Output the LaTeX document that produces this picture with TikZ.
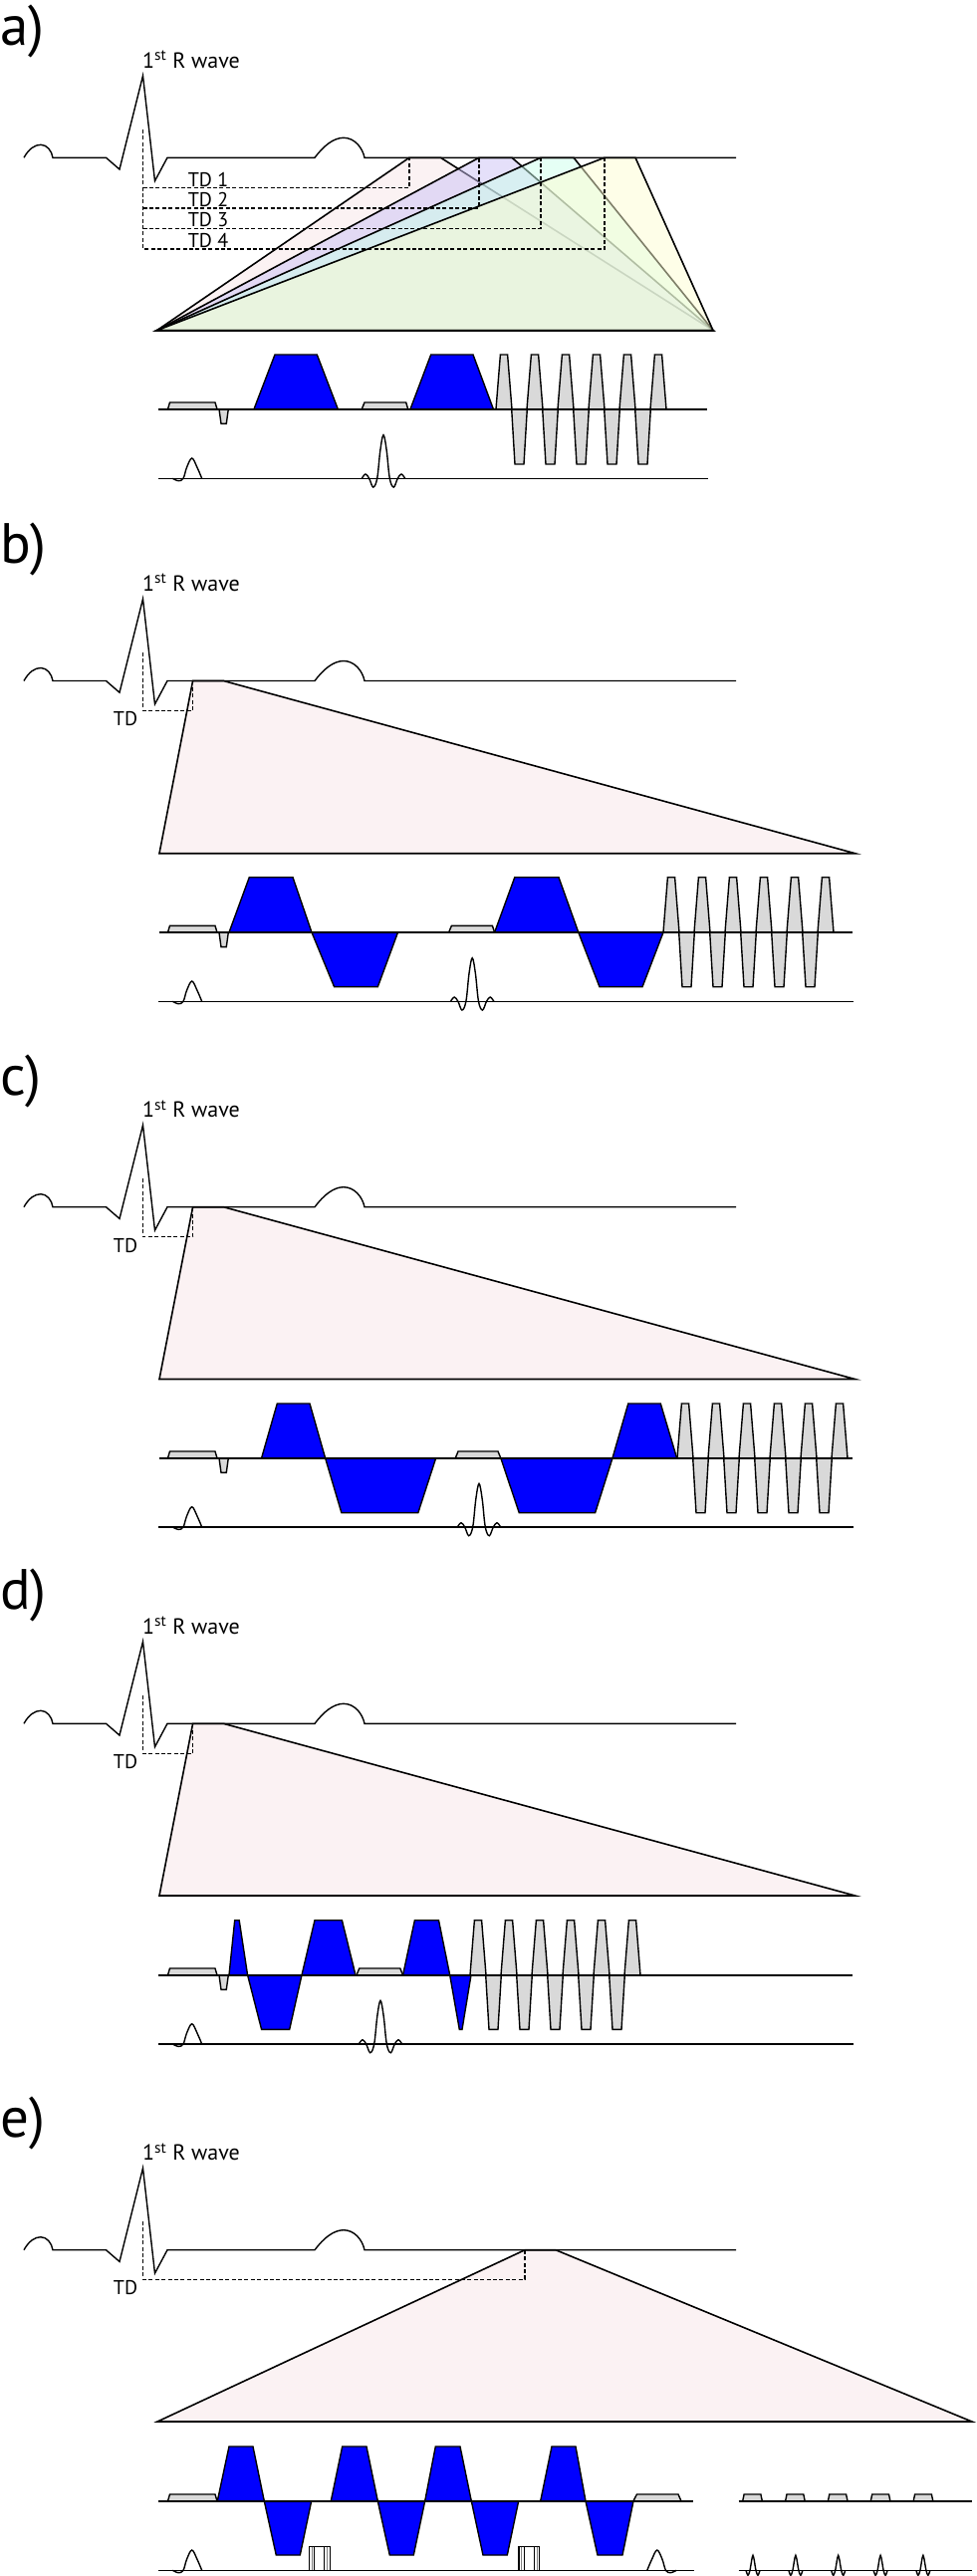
\documentclass[tikz,border=0pt]{standalone}
\usepackage{fontspec}
\setmainfont{PT Sans}
\tikzset{
  ecgline/.style={draw=black,line width=1.4pt,line join=miter},
  dashline/.style={draw=black,line width=1.4pt,dash pattern=on 4pt off 2.4pt},
  axisline/.style={draw=black,line width=1.6pt},
  bluelobe/.style={draw=black,line width=1.4pt,fill=blue,line join=miter},
  graylobe/.style={draw=black,line width=1.4pt,fill=gray1,line join=miter},
  pyramid/.style={draw=black,line width=1.6pt,fill=pink1,line join=miter},
  panellabel/.style={anchor=west,inner sep=0pt,font=\fontsize{57}{57}\selectfont},
  wavelabel/.style={anchor=west,inner sep=0pt,font=\fontsize{22}{22}\selectfont},
  tdlabel/.style={anchor=center,inner sep=0pt,font=\fontsize{20}{20}\selectfont},
}
\definecolor{gray1}{HTML}{D9D9D9}
\definecolor{pink1}{HTML}{FBF2F3}
\definecolor{tdtwo}{RGB}{203,193,245}
\definecolor{tdthree}{RGB}{203,255,235}
\definecolor{tdfour}{RGB}{253,253,209}
% ECG trace, 1st R wave label, with baseline y = #1
\newcommand{\ecgtrace}[2]{%
  \begin{scope}[shift={(0,#1)}]
    \node[wavelabel] (rw#2) at (143,-98.5) {1\textsuperscript{st} R wave};
    \draw[ecgline] (24,0) .. controls (29,-9) and (35,-13) .. (41,-13)
      .. controls (47,-13) and (52,-7) .. (53,0) -- (106.5,0) -- (120,11.7)
      -- (143.5,-82.3) -- (155.5,23.4) -- (168,0) -- (316,0)
      .. controls (325,-12) and (335,-20) .. (345,-20)
      .. controls (356,-20) and (364,-10) .. (366,0) -- (739,0);
  \end{scope}}
% first excitation pulse on signal axis
\newcommand{\firstpulse}[1]{%
  \begin{scope}[shift={(0,#1)}]
    \draw[ecgline] plot[smooth,tension=.6] coordinates {(173.3,0) (179.3,2.4) (184,0) (187.5,-11) (192.7,-20.3) (198,-11) (202.7,0)};
  \end{scope}}
% sinc pulse: centre, axis y
\newcommand{\sincpulse}[2]{%
  \begin{scope}[shift={(#1,#2)}]
    \draw[ecgline] plot[smooth,tension=.6] coordinates {(-21.7,0) (-18,-4.3) (-14.3,0) (-10.3,8.7) (-6.3,0) (-3.2,-28) (0,-43.6) (3.2,-28) (6.3,0) (10.3,8.7) (14.3,0) (18,-4.3) (21.7,0)};
  \end{scope}}
% blue lobe: axis y, level y, four x
\newcommand{\blobe}[6]{\draw[bluelobe] (#3,#1) -- (#4,#2) -- (#5,#2) -- (#6,#1) -- cycle;}
% small gray slab: axis y, four x
\newcommand{\slab}[5]{\draw[graylobe] (#2,#1) -- (#3,#1-6.7) -- (#4,#1-6.7) -- (#5,#1) -- cycle;}
% slice select and rephasing at start
\newcommand{\startslab}[1]{%
  \slab{#1}{168.5}{170.5}{216}{218}
  \draw[graylobe] (220,#1) -- (222,#1+14.6) -- (227.3,#1+14.6) -- (229.3,#1) -- cycle;}
% readout: axis, top, bottom, first centre
\newcommand{\readoutseq}[4]{%
  \foreach \ii in {0,...,5} {
    \pgfmathsetmacro\cxp{#4+\ii*31}
    \draw[graylobe] (\cxp-8,#1) -- (\cxp-3.6,#2) -- (\cxp+3.6,#2) -- (\cxp+8,#1) -- cycle;
  }
  \foreach \ii in {0,...,4} {
    \pgfmathsetmacro\cxn{#4+15.5+\ii*31}
    \draw[graylobe] (\cxn-7.8,#1) -- (\cxn-4.5,#3) -- (\cxn+4.5,#3) -- (\cxn+7.8,#1) -- cycle;
  }}
\begin{document}
\begin{tikzpicture}[x=1pt,y=-1pt]
\useasboundingbox (0,0) rectangle (981,2586);

% ---------- panel a ----------
\node[panellabel] (la) at (0,31) {a)};
\draw[pyramid] (157.5,331.7) -- (411,158.3) -- (442.5,158.3) -- (716,331.7) -- cycle;
\draw[pyramid,fill=tdtwo,fill opacity=.5] (157.5,331.7) -- (481,158.3) -- (514,158.3) -- (716,331.7) -- cycle;
\draw[pyramid,fill=tdthree,fill opacity=.5] (157.5,331.7) -- (543,158.3) -- (576,158.3) -- (716,331.7) -- cycle;
\draw[pyramid,fill=tdfour,fill opacity=.5] (157.5,331.7) -- (607,158.3) -- (638,158.3) -- (716,331.7) -- cycle;
\ecgtrace{158.3}{a}
\draw[dashline] (143.5,130) -- (143.5,250) -- (607,250) -- (607,158.3);
\draw[dashline] (143.5,188.3) -- (411,188.3) -- (411,158.3);
\draw[dashline] (143.5,209) -- (481,209) -- (481,158.3);
\draw[dashline] (143.5,229.3) -- (543,229.3) -- (543,158.3);
\node[tdlabel] (tda1) at (209,180) {TD 1};
\node[tdlabel] (tda2) at (209,200.7) {TD 2};
\node[tdlabel] (tda3) at (209,220.5) {TD 3};
\node[tdlabel] (tda4) at (209,241) {TD 4};
\startslab{410.7}
\blobe{410.7}{356}{255}{276}{318.3}{339.3}
\slab{410.7}{363.3}{366}{407.7}{409.7}
\blobe{410.7}{356}{412}{432.7}{475}{495.4}
\readoutseq{410.7}{356}{466}{506}
\draw[axisline] (159,410.7) -- (710,410.7);
\draw[axisline] (159,480.3) -- (711,480.3);
\firstpulse{480.3}
\sincpulse{385}{480.3}

% ---------- panel b ----------
\node[panellabel] (lb) at (0,551) {b)};
\draw[pyramid] (160,856.7) -- (193.6,683.5) -- (224.5,683.5) -- (858.6,856.7) -- cycle;
\ecgtrace{683.5}{b}
\draw[dashline] (143.5,655) -- (143.5,713.3) -- (193.6,713.3) -- (193.6,683.5);
\node[tdlabel] (tdb) at (126,721.7) {TD};
\startslab{936}
\blobe{936}{880.7}{230}{250.3}{294}{313}
\blobe{936}{990.7}{313}{335.6}{379.3}{399.5}
\slab{936}{450.6}{453.4}{494.4}{496.6}
\blobe{936}{880.7}{496.6}{516.8}{561}{580.8}
\blobe{936}{990.7}{580.8}{602}{645}{666}
\readoutseq{936}{880.7}{990.7}{674}
\draw[axisline] (160,936) -- (855.8,936);
\draw[axisline] (159,1005.3) -- (857,1005.3);
\firstpulse{1005.3}
\sincpulse{474.2}{1005.3}

% ---------- panel c ----------
\node[panellabel] (lc) at (0,1085) {c)};
\draw[pyramid] (160,1384.5) -- (193.6,1211.7) -- (224.5,1211.7) -- (858.6,1384.5) -- cycle;
\ecgtrace{1211.7}{c}
\draw[dashline] (143.5,1183) -- (143.5,1241.7) -- (193.6,1241.7) -- (193.6,1211.7);
\node[tdlabel] (tdc) at (126,1250) {TD};
\startslab{1463.7}
\blobe{1463.7}{1409}{262.6}{278.3}{311}{326.6}
\blobe{1463.7}{1518.7}{326.6}{342.9}{419.8}{437.7}
\slab{1463.7}{457.3}{460}{500}{502.8}
\blobe{1463.7}{1518.7}{502.8}{521.3}{597.6}{615}
\blobe{1463.7}{1409}{615}{630.8}{663.3}{679.6}
\readoutseq{1463.7}{1409}{1518.7}{688}
\draw[axisline] (160,1463.7) -- (855.8,1463.7);
\draw[axisline] (159,1533) -- (857,1533);
\firstpulse{1533}
\sincpulse{481}{1533}

% ---------- panel d ----------
\node[panellabel] (ld) at (0,1601) {d)};
\draw[pyramid] (160,1903) -- (193.6,1730.3) -- (224.5,1730.3) -- (858.6,1903) -- cycle;
\ecgtrace{1730.3}{d}
\draw[dashline] (143.5,1702) -- (143.5,1760.3) -- (193.6,1760.3) -- (193.6,1730.3);
\node[tdlabel] (tdd) at (126,1768.5) {TD};
\startslab{1982.7}
\blobe{1982.7}{1927.7}{230}{235.7}{240.2}{248.6}
\blobe{1982.7}{2037.3}{248.6}{262.6}{290.7}{303}
\blobe{1982.7}{1927.7}{303}{316}{343.4}{357}
\slab{1982.7}{358}{360.8}{401.8}{404.6}
\blobe{1982.7}{1927.7}{404.6}{416.4}{440.5}{451.7}
\blobe{1982.7}{2037.3}{451.7}{461.3}{464}{473}
\readoutseq{1982.7}{1927.7}{2037.3}{480}
\draw[axisline] (159,1982.7) -- (856,1982.7);
\draw[axisline] (159,2052) -- (857,2052);
\firstpulse{2052}
\sincpulse{382}{2052}

% ---------- panel e ----------
\node[panellabel] (le) at (0,2131) {e)};
\draw[pyramid] (158,2431) -- (527,2258.7) -- (558,2258.7) -- (976,2431) -- cycle;
\ecgtrace{2258.7}{e}
\draw[dashline] (143.7,2230) -- (143.7,2288.3) -- (527,2288.3) -- (527,2258.7);
\node[tdlabel] (tde) at (126,2296.7) {TD};
\slab{2510.7}{168.5}{170.5}{216}{218}
\blobe{2510.7}{2456}{218.3}{230}{254}{265.3}
\blobe{2510.7}{2565}{265.3}{277.3}{301.3}{312.7}
\blobe{2510.7}{2456}{332.3}{343.7}{368}{379.3}
\blobe{2510.7}{2565}{379.3}{391.3}{415.3}{426.7}
\blobe{2510.7}{2456}{426.7}{437.3}{462}{473.3}
\blobe{2510.7}{2565}{473.3}{485}{509.3}{520.7}
\blobe{2510.7}{2456}{542.7}{554}{578}{588}
\blobe{2510.7}{2565}{588}{600}{625}{636}
\slab{2510.7}{636}{639.4}{681}{684}
\foreach \xs in {745.7,788.6,831.4,874.3,917.2} {
  \slab{2510.7}{\xs}{\xs+1.4}{\xs+18.2}{\xs+19.6}
}
\draw[axisline] (159.4,2510.7) -- (695.6,2510.7);
\draw[axisline] (741.5,2510.7) -- (976,2510.7);
\draw[axisline] (159.4,2580.3) -- (697,2580.3);
\draw[axisline] (741.5,2580.3) -- (976,2580.3);
\firstpulse{2580.3}
\begin{scope}[shift={(0,2580.3)}]
  \draw[ecgline] plot[smooth,tension=.6] coordinates {(649.8,0) (654.5,-11) (659.8,-20.3) (665,-11) (668.5,0) (673.2,2.4) (679.2,0)};
\end{scope}
% boxes on the signal axis
\foreach \xb in {310.5,521} {
  \draw[line width=1.2pt] (\xb,2580.3) -- (\xb,2556.7) -- (\xb+20.6,2556.7) -- (\xb+20.6,2580.3);
  \draw[line width=1.2pt] (\xb+5.2,2556.7) -- (\xb+5.2,2580.3);
  \draw[line width=1.2pt] (\xb+15.2,2556.7) -- (\xb+15.2,2580.3);
  \draw[line width=.7pt,gray] (\xb+2.6,2556.7) -- (\xb+2.6,2580.3);
  \draw[line width=.7pt,gray] (\xb+18,2556.7) -- (\xb+18,2580.3);
}
\foreach \xp in {756,798.9,841.7,884.1,926.9} {
  \begin{scope}[shift={(\xp,2580.3)}]
    \draw[ecgline] plot[smooth,tension=.5] coordinates {(-7,0) (-5,5) (-3,0) (0,-15) (3,0) (5,5) (7,0)};
  \end{scope}
}
\end{tikzpicture}
\end{document}
